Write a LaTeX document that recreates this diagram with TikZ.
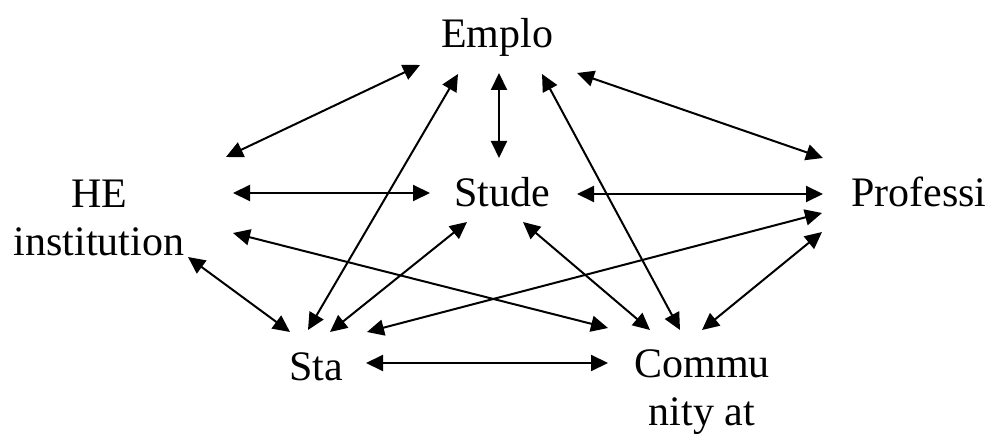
\documentclass[tikz,border=0pt]{standalone}
\usepackage{fontspec}
\setmainfont{Liberation Serif}
\usetikzlibrary{arrows.meta}
\begin{document}
\begin{tikzpicture}[x=1pt,y=-1pt,
  label text/.style={anchor=base,inner sep=0pt,align=center,
    font=\fontsize{42}{48}\selectfont},
  link/.style={draw=black,line width=2pt,
    {Triangle[length=17pt,width=16pt]}-{Triangle[length=17pt,width=16pt]}}]
\useasboundingbox (0,0) rectangle (992,435);

% actors (two-line labels are placed by the baseline of their last line)
\node[label text] (emp)  at (497,48)  {Emplo};
\node[label text] (stu)  at (502,207) {Stude};
\node[label text] (he)   at (99,256)  {HE\\institution};
\node[label text] (pro)  at (919,207) {Professi};
\node[label text] (sta)  at (316,380) {Sta};
\node[label text] (com)  at (702,425) {Commu\\nity at};

% arrow ends around Emplo
\coordinate (empW)  at (420,65);
\coordinate (empSW) at (458,74);
\coordinate (empS)  at (499,73);
\coordinate (empSE) at (542,74);
\coordinate (empE)  at (577,73);
% arrow ends around Stude
\coordinate (stuN)  at (499,158);
\coordinate (stuW)  at (430,193);
\coordinate (stuE)  at (577,194);
\coordinate (stuSW) at (467,222);
\coordinate (stuSE) at (523,222);
% arrow ends around HE institution
\coordinate (heNE)  at (226,157);
\coordinate (heE)   at (233,193);
\coordinate (heSE)  at (233,233);
\coordinate (heS)   at (188,257);
% arrow ends around Professi
\coordinate (proNW) at (823,158);
\coordinate (proW)  at (823,194);
\coordinate (proSW) at (822,213);
\coordinate (proS)  at (822,232);
% arrow ends around Sta
\coordinate (staNW) at (290,332);
\coordinate (staN)  at (308,330);
\coordinate (staNE) at (330,332);
\coordinate (staE)  at (367,332);
\coordinate (staR)  at (366,363);
% arrow ends around Community
\coordinate (comNW) at (608,328);
\coordinate (comN)  at (650,330);
\coordinate (comNE) at (680,330);
\coordinate (comE)  at (702,330);
\coordinate (comL)  at (608,363);

% relations
\draw[link] (heNE)  -- (empW);
\draw[link] (empS)  -- (stuN);
\draw[link] (staN)  -- (empSW);
\draw[link] (comNE) -- (empSE);
\draw[link] (empE)  -- (proNW);
\draw[link] (heE)   -- (stuW);
\draw[link] (stuE)  -- (proW);
\draw[link] (heSE)  -- (comNW);
\draw[link] (heS)   -- (staNW);
\draw[link] (stuSW) -- (staNE);
\draw[link] (staE)  -- (proSW);
\draw[link] (stuSE) -- (comN);
\draw[link] (proS)  -- (comE);
\draw[link] (staR)  -- (comL);
\end{tikzpicture}
\end{document}
